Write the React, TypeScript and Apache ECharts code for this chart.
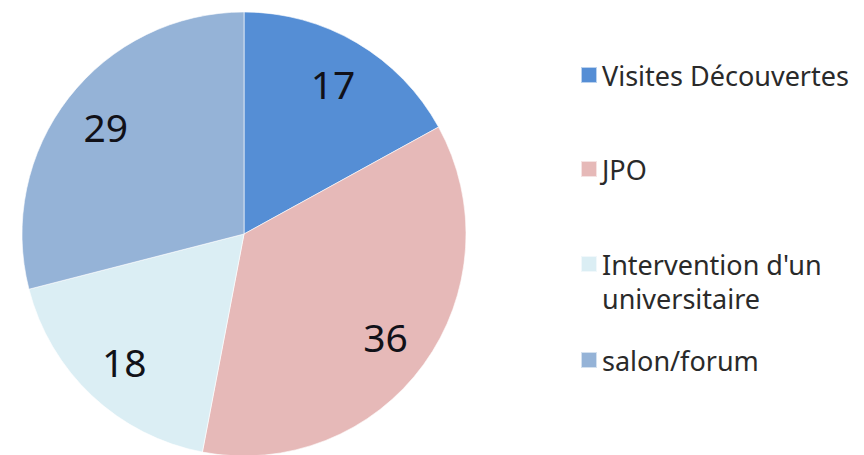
import React, { useEffect, useRef } from "react";
import * as echarts from "echarts";

const categories = ["Visites Découvertes", "JPO", "Intervention d'un universitaire", "salon/forum"];
const values = [17, 36, 18, 29];
const colors = ["#558ED5", "#E6B9B8", "#DBEEF4", "#95B3D7"];

const FONT = "Noto Sans";

export default function App() {
  const ref = useRef<HTMLDivElement>(null);
  useEffect(() => {
    if (!ref.current) return;
    const chart = echarts.init(ref.current, undefined, { renderer: "svg" });
    const data = categories.map((name, i) => ({
      name,
      value: values[i],
      itemStyle: { color: colors[i] },
    }));
    const legendTops = [53, 147, 208, 338];
    const legends = categories.map((name, i) => ({
      data: [name],
      left: 575,
      top: legendTops[i],
      orient: "vertical",
      icon: "rect",
      itemWidth: 16,
      itemHeight: 16,
      selectedMode: false,
      formatter: (n: string) =>
        n === "Intervention d'un universitaire" ? "\nIntervention d'un\nuniversitaire" : n,
      textStyle: {
        fontFamily: FONT,
        fontSize: 27,
        lineHeight: 34,
        color: "#2a2a2a",
      },
    }));
    chart.setOption({
      animation: false,
      backgroundColor: "#ffffff",
      legend: legends,
      series: [
        {
          type: "pie",
          center: [244, 234],
          radius: [0, 222],
          startAngle: 90,
          clockwise: true,
          silent: true,
          label: { show: false },
          labelLine: { show: false },
          itemStyle: { borderColor: "rgba(255,255,255,0.6)", borderWidth: 1 },
          emphasis: { disabled: true },
          data,
        },
        {
          type: "pie",
          center: [244, 234],
          radius: [122, 222],
          startAngle: 90,
          clockwise: true,
          silent: true,
          emphasis: { disabled: true },
          itemStyle: { color: "rgba(0,0,0,0)" },
          labelLine: { show: false },
          label: {
            show: true,
            position: "inside",
            formatter: "{c}",
            fontFamily: FONT,
            fontSize: 39,
            color: "#111118",
          },
          data: categories.map((name, i) => ({ name, value: values[i] })),
        },
      ],
    });
    return () => chart.dispose();
  }, []);
  return (
    <div
      ref={ref}
      style={{ position: "fixed", left: 0, top: 0, width: 864, height: 455 }}
    />
  );
}
